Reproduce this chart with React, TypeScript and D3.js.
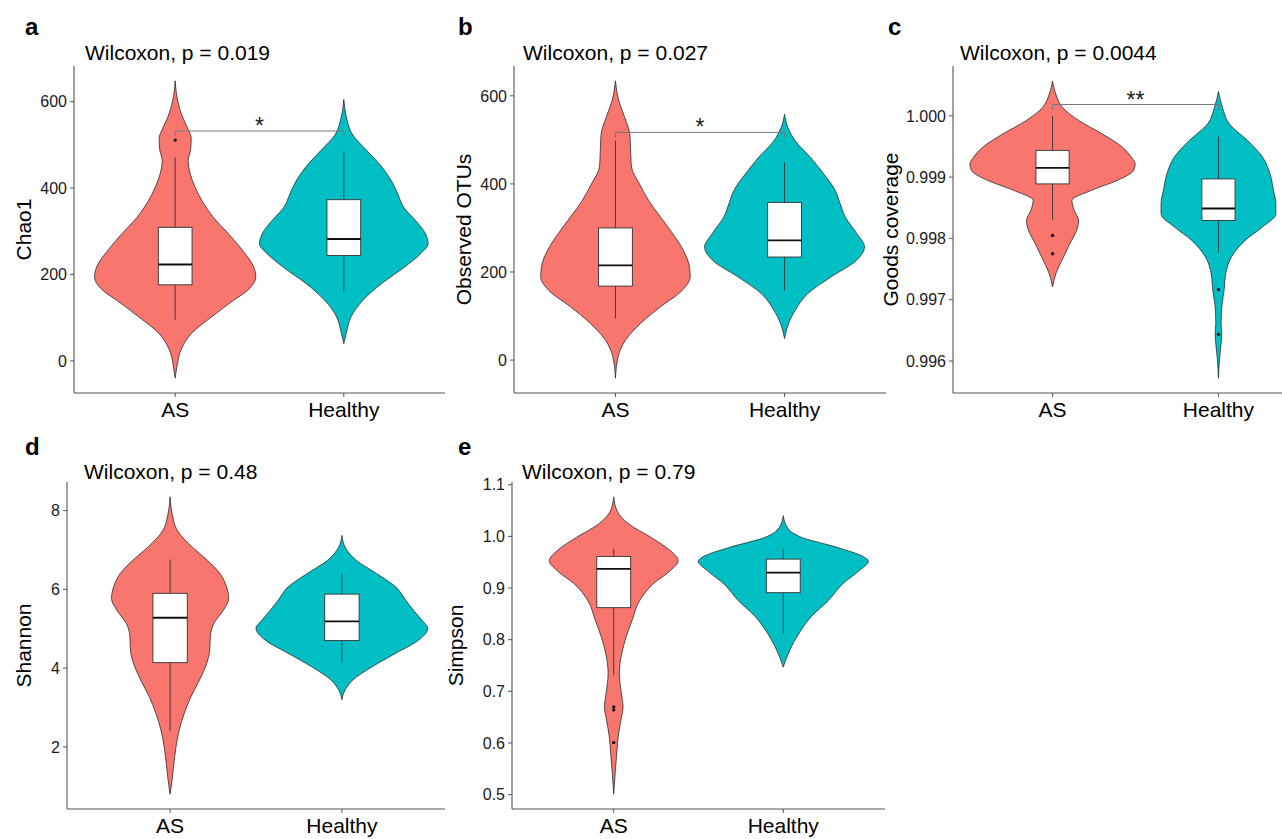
import React from 'react';
import * as d3 from 'd3';

const groups = ['AS', 'Healthy'];
const groupColors = ['#F8766D', '#00BFC4'];

const panelLetters = ['a', 'b', 'c', 'd', 'e'];
const metricNames = ['Chao1', 'Observed OTUs', 'Goods coverage', 'Shannon', 'Simpson'];
const testLabels = [
  'Wilcoxon, p = 0.019',
  'Wilcoxon, p = 0.027',
  'Wilcoxon, p = 0.0044',
  'Wilcoxon, p = 0.48',
  'Wilcoxon, p = 0.79',
];

// y ticks and data extent (violin tips) per metric
const chao1Ticks = [0, 200, 400, 600];
const otuTicks = [0, 200, 400, 600];
const goodsTicks = [0.996, 0.997, 0.998, 0.999, 1.0];
const shannonTicks = [2, 4, 6, 8];
const simpsonTicks = [0.5, 0.6, 0.7, 0.8, 0.9, 1.0, 1.1];

const chao1Extent = [-40, 648];
const otuExtent = [-41, 634];
const goodsExtent = [0.99572, 1.00057];
const shannonExtent = [0.8, 8.35];
const simpsonExtent = [0.501, 1.0765];

// violin outlines: [value, half width in category steps]
const chao1AsViolin = [
  [648, 0], [600, 0.016], [563, 0.045], [540, 0.072], [515, 0.095], [490, 0.092],
  [463, 0.077], [432, 0.09], [401, 0.119], [371, 0.158], [332, 0.227], [294, 0.316],
  [255, 0.401], [217, 0.466], [194, 0.478], [163, 0.429], [140, 0.346], [102, 0.217],
  [63, 0.095], [25, 0.034], [-14, 0.01], [-40, 0],
];
const chao1HealthyViolin = [
  [605, 0], [563, 0.016], [525, 0.049], [486, 0.138], [448, 0.227], [409, 0.293],
  [386, 0.32], [355, 0.356], [325, 0.425], [294, 0.484], [271, 0.5], [248, 0.455],
  [217, 0.36], [178, 0.221], [140, 0.113], [102, 0.043], [63, 0.014], [40, 0],
];
const otuAsViolin = [
  [634, 0], [589, 0.02], [551, 0.055], [513, 0.085], [483, 0.089], [453, 0.092],
  [438, 0.095], [400, 0.142], [362, 0.197], [325, 0.266], [287, 0.339], [249, 0.402],
  [211, 0.438], [189, 0.442], [158, 0.394], [121, 0.266], [83, 0.148], [45, 0.059],
  [8, 0.016], [-41, 0],
];
const otuHealthyViolin = [
  [558, 0], [528, 0.02], [498, 0.063], [460, 0.154], [423, 0.231], [385, 0.3],
  [355, 0.329], [325, 0.359], [287, 0.428], [257, 0.473], [226, 0.424], [189, 0.276],
  [151, 0.138], [113, 0.063], [83, 0.024], [49, 0],
];
const goodsAsViolin = [
  [1.000569, 0], [1.000352, 0.02], [1.000136, 0.06], [0.999919, 0.161], [0.999702, 0.301],
  [0.999485, 0.422], [0.999322, 0.476], [0.999214, 0.498], [0.999106, 0.488],
  [0.998943, 0.388], [0.99878, 0.231], [0.998618, 0.117], [0.998455, 0.131],
  [0.998293, 0.157], [0.99813, 0.145], [0.997913, 0.104], [0.997642, 0.056],
  [0.997425, 0.02], [0.997209, 0],
];
const goodsHealthyViolin = [
  [1.000396, 0], [1.000136, 0.024], [0.999865, 0.066], [0.999593, 0.177], [0.999322, 0.267],
  [0.999051, 0.311], [0.99878, 0.332], [0.998564, 0.346], [0.998401, 0.346],
  [0.998184, 0.265], [0.997967, 0.161], [0.997696, 0.078], [0.997425, 0.044],
  [0.997154, 0.034], [0.996883, 0.02], [0.996612, 0.016], [0.99645, 0.02],
  [0.996233, 0.014], [0.996016, 0.006], [0.995718, 0],
];
const shannonAsViolin = [
  [8.35, 0], [7.92, 0.012], [7.49, 0.043], [7.07, 0.13], [6.74, 0.217], [6.4, 0.291],
  [6.06, 0.329], [5.77, 0.341], [5.47, 0.31], [5.13, 0.254], [4.8, 0.234], [4.46, 0.231],
  [4.12, 0.213], [3.7, 0.171], [3.28, 0.122], [2.86, 0.083], [2.44, 0.054], [2.02, 0.035],
  [1.6, 0.023], [1.17, 0.012], [0.8, 0],
];
const shannonHealthyViolin = [
  [7.37, 0], [7.07, 0.019], [6.74, 0.083], [6.4, 0.203], [6.06, 0.314], [5.72, 0.372],
  [5.47, 0.417], [5.22, 0.465], [5.01, 0.5], [4.71, 0.446], [4.38, 0.314], [4.04, 0.178],
  [3.7, 0.064], [3.45, 0.019], [3.2, 0],
];
const simpsonAsViolin = [
  [1.0765, 0], [1.049, 0.02], [1.024, 0.089], [0.998, 0.22], [0.972, 0.335], [0.953, 0.38],
  [0.934, 0.335], [0.908, 0.232], [0.876, 0.153], [0.837, 0.108], [0.805, 0.073],
  [0.773, 0.047], [0.735, 0.033], [0.696, 0.045], [0.67, 0.055], [0.645, 0.043],
  [0.612, 0.026], [0.58, 0.018], [0.548, 0.01], [0.501, 0],
];
const simpsonHealthyViolin = [
  [1.04, 0], [1.017, 0.024], [0.998, 0.108], [0.979, 0.315], [0.96, 0.476], [0.952, 0.502],
  [0.934, 0.449], [0.908, 0.35], [0.876, 0.266], [0.844, 0.163], [0.812, 0.092],
  [0.78, 0.039], [0.747, 0],
];

// boxplots: [lower whisker, q1, median, q3, upper whisker]
const chao1AsBox = [95, 176, 223, 309, 471];
const chao1HealthyBox = [161, 244, 282, 373, 485];
const otuAsBox = [94, 168, 215, 300, 498];
const otuHealthyBox = [158, 234, 272, 358, 449];
const goodsAsBox = [0.998304, 0.998889, 0.999149, 0.999436, 1.0];
const goodsHealthyBox = [0.997767, 0.998293, 0.998488, 0.99897, 0.999659];
const shannonAsBox = [2.4, 4.14, 5.28, 5.9, 6.76];
const shannonHealthyBox = [4.15, 4.7, 5.19, 5.88, 6.4];
const simpsonAsBox = [0.731, 0.862, 0.937, 0.961, 0.976];
const simpsonHealthyBox = [0.812, 0.891, 0.93, 0.956, 0.976];

// outliers
const chao1AsOutliers = [511];
const goodsAsOutliers = [0.998049, 0.997751];
const goodsHealthyOutliers = [0.997165, 0.996434];
const simpsonAsOutliers = [0.67, 0.664, 0.601];

// significance brackets: [y value, label]
const chao1Bracket = [532, '*'];
const otuBracket = [517, '*'];
const goodsBracket = [1.000184, '**'];

const panels = [
  { ticks: chao1Ticks, extent: chao1Extent, fmt: d3.format('d'), violins: [chao1AsViolin, chao1HealthyViolin], boxes: [chao1AsBox, chao1HealthyBox], outliers: [chao1AsOutliers, []], bracket: chao1Bracket },
  { ticks: otuTicks, extent: otuExtent, fmt: d3.format('d'), violins: [otuAsViolin, otuHealthyViolin], boxes: [otuAsBox, otuHealthyBox], outliers: [[], []], bracket: otuBracket },
  { ticks: goodsTicks, extent: goodsExtent, fmt: d3.format('.3f'), violins: [goodsAsViolin, goodsHealthyViolin], boxes: [goodsAsBox, goodsHealthyBox], outliers: [goodsAsOutliers, goodsHealthyOutliers], bracket: goodsBracket },
  { ticks: shannonTicks, extent: shannonExtent, fmt: d3.format('d'), violins: [shannonAsViolin, shannonHealthyViolin], boxes: [shannonAsBox, shannonHealthyBox], outliers: [[], []], bracket: null },
  { ticks: simpsonTicks, extent: simpsonExtent, fmt: d3.format('.1f'), violins: [simpsonAsViolin, simpsonHealthyViolin], boxes: [simpsonAsBox, simpsonHealthyBox], outliers: [simpsonAsOutliers, []], bracket: null },
];

// layout of each panel in the page
const frames = [
  { left: 74, right: 445, top: 66, bottom: 393, letterX: 25, letterY: 35, titleX: 85, titleY: 60, yTitleX: 31 },
  { left: 514, right: 886, top: 66, bottom: 393, letterX: 458, letterY: 35, titleX: 523, titleY: 60, yTitleX: 471 },
  { left: 953, right: 1318, top: 66, bottom: 393, letterX: 888, letterY: 35, titleX: 960, titleY: 60, yTitleX: 898 },
  { left: 67, right: 445, top: 482, bottom: 809, letterX: 25, letterY: 455, titleX: 84, titleY: 479, yTitleX: 31 },
  { left: 512, right: 885, top: 482, bottom: 809, letterX: 458, letterY: 455, titleX: 522, titleY: 479, yTitleX: 463 },
];

const FONT = 'Liberation Sans, Arial, Helvetica, sans-serif';

function Panel({ idx }: { idx: number }) {
  const p: any = panels[idx];
  const f = frames[idx];
  const x = d3.scalePoint().domain(groups).range([f.left, f.right]).padding(0.6);
  const step = x.step();
  const span = p.extent[1] - p.extent[0];
  const y = d3
    .scaleLinear()
    .domain([p.extent[0] - 0.05 * span, p.extent[1] + 0.05 * span])
    .range([f.bottom, f.top]);
  const boxHalf = 0.1 * step;

  return (
    <g>
      <text x={f.letterX} y={f.letterY} fontSize={24} fontWeight="bold" fontFamily={FONT}>
        {panelLetters[idx]}
      </text>
      <text x={f.titleX} y={f.titleY} fontSize={21} fontFamily={FONT}>
        {testLabels[idx]}
      </text>

      {groups.map((g, gi) => {
        const cx = x(g) as number;
        const area = d3
          .area<number[]>()
          .y((d) => y(d[0]))
          .x0((d) => cx - d[1] * step)
          .x1((d) => cx + d[1] * step)
          .curve(d3.curveMonotoneY);
        const b = p.boxes[gi];
        return (
          <g key={g}>
            <path d={area(p.violins[gi]) || ''} fill={groupColors[gi]} stroke="#222" strokeWidth={0.75} />
            <line x1={cx} x2={cx} y1={y(b[4])} y2={y(b[3])} stroke="#333" strokeWidth={0.9} />
            <line x1={cx} x2={cx} y1={y(b[1])} y2={y(b[0])} stroke="#333" strokeWidth={0.9} />
            <rect
              x={cx - boxHalf}
              y={y(b[3])}
              width={boxHalf * 2}
              height={y(b[1]) - y(b[3])}
              fill="#fff"
              stroke="#333"
              strokeWidth={0.9}
            />
            <line x1={cx - boxHalf} x2={cx + boxHalf} y1={y(b[2])} y2={y(b[2])} stroke="#111" strokeWidth={1.8} />
            {p.outliers[gi].map((o: number, oi: number) => (
              <circle key={oi} cx={cx} cy={y(o)} r={1.6} fill="#000" />
            ))}
          </g>
        );
      })}

      {p.bracket && (
        <g>
          <path
            d={`M${x(groups[0])},${y(p.bracket[0]) + 5}V${y(p.bracket[0])}H${x(groups[1])}V${y(p.bracket[0]) + 5}`}
            fill="none"
            stroke="#777"
            strokeWidth={1}
          />
          <text
            x={((x(groups[0]) as number) + (x(groups[1]) as number)) / 2}
            y={y(p.bracket[0]) + 3}
            textAnchor="middle"
            fontSize={23}
            fontFamily={FONT}
            fill="#222"
          >
            {p.bracket[1]}
          </text>
        </g>
      )}

      {/* y axis */}
      <line x1={f.left} x2={f.left} y1={f.top} y2={f.bottom} stroke="#555" strokeWidth={1.1} />
      {p.ticks.map((t: number) => (
        <g key={t}>
          <line x1={f.left - 4} x2={f.left} y1={y(t)} y2={y(t)} stroke="#555" strokeWidth={1} />
          <text
            x={f.left - 7}
            y={y(t)}
            dy="0.36em"
            textAnchor="end"
            fontSize={16}
            fontFamily={FONT}
            fill="#1a1a1a"
          >
            {p.fmt(t)}
          </text>
        </g>
      ))}
      <text
        transform={`translate(${f.yTitleX},${(f.top + f.bottom) / 2}) rotate(-90)`}
        textAnchor="middle"
        fontSize={21}
        fontFamily={FONT}
      >
        {metricNames[idx]}
      </text>

      {/* x axis */}
      <line x1={f.left} x2={f.right} y1={f.bottom} y2={f.bottom} stroke="#555" strokeWidth={1.1} />
      {groups.map((g) => (
        <g key={g}>
          <line x1={x(g)} x2={x(g)} y1={f.bottom} y2={f.bottom + 4} stroke="#555" strokeWidth={1} />
          <text x={x(g)} y={f.bottom + 24} textAnchor="middle" fontSize={21} fontFamily={FONT}>
            {g}
          </text>
        </g>
      ))}
    </g>
  );
}

export default function App() {
  return (
    <svg
      width={1282}
      height={839}
      style={{ position: 'absolute', left: 0, top: 0, background: '#fff' }}
    >
      <rect width={1282} height={839} fill="#fff" />
      {panels.map((_, i) => (
        <Panel key={i} idx={i} />
      ))}
    </svg>
  );
}
